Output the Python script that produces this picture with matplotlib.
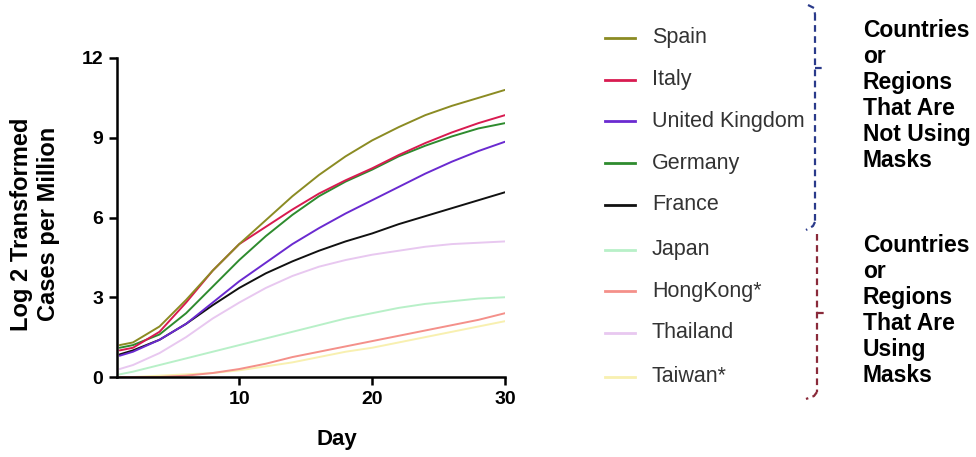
import matplotlib.pyplot as plt
from matplotlib.lines import Line2D

# Días y valores (log2 casos por millón)
dias = [1, 2, 4, 6, 8, 10, 12, 14, 16, 18, 20, 22, 24, 26, 28, 30]

paises = ['Spain', 'Italy', 'United Kingdom', 'Germany', 'France',
          'Japan', 'HongKong*', 'Thailand', 'Taiwan*']

spain = [1.2, 1.3, 1.9, 2.9, 4.0, 5.0, 5.9, 6.8, 7.6, 8.3, 8.9, 9.4, 9.85, 10.2, 10.5, 10.8]
italy = [1.0, 1.1, 1.7, 2.8, 4.0, 5.0, 5.65, 6.3, 6.9, 7.4, 7.85, 8.35, 8.8, 9.2, 9.55, 9.85]
uk = [0.8, 0.95, 1.4, 2.0, 2.8, 3.6, 4.3, 5.0, 5.6, 6.15, 6.65, 7.15, 7.65, 8.1, 8.5, 8.85]
germany = [1.1, 1.2, 1.6, 2.4, 3.4, 4.4, 5.3, 6.1, 6.8, 7.35, 7.8, 8.3, 8.7, 9.05, 9.35, 9.55]
france = [0.85, 1.0, 1.4, 2.0, 2.7, 3.35, 3.9, 4.35, 4.75, 5.1, 5.4, 5.75, 6.05, 6.35, 6.65, 6.95]
japan = [0.1, 0.2, 0.45, 0.7, 0.95, 1.2, 1.45, 1.7, 1.95, 2.2, 2.4, 2.6, 2.75, 2.85, 2.95, 3.0]
hongkong = [0.0, 0.0, 0.0, 0.05, 0.15, 0.3, 0.5, 0.75, 0.95, 1.15, 1.35, 1.55, 1.75, 1.95, 2.15, 2.4]
thailand = [0.3, 0.45, 0.9, 1.5, 2.2, 2.8, 3.35, 3.8, 4.15, 4.4, 4.6, 4.75, 4.9, 5.0, 5.05, 5.1]
taiwan = [0.0, 0.0, 0.05, 0.1, 0.15, 0.25, 0.4, 0.55, 0.75, 0.95, 1.1, 1.3, 1.5, 1.7, 1.9, 2.1]

series = [spain, italy, uk, germany, france, japan, hongkong, thailand, taiwan]
colores = ['#8b8b23', '#d81b50', '#6a2ad0', '#2e8b2e', '#111111',
           '#b8f0c8', '#f4908a', '#e8c8f0', '#f8f0b0']

plt.rcParams['font.family'] = ['Liberation Sans', 'DejaVu Sans']

W, H = 976, 457
fig = plt.figure(figsize=(9.76, 4.57), dpi=100)
ax = fig.add_axes([117 / W, 1 - 377 / H, 388 / W, 319 / H])

# dibujar las líneas (de atrás hacia adelante)
for i in [8, 7, 6, 5, 4, 3, 2, 1, 0]:
    ax.plot(dias, series[i], color=colores[i], lw=1.4, solid_capstyle='round')

ax.set_xlim(0.8, 30)
ax.set_ylim(0, 12)
ax.set_xticks([10, 20, 30])
ax.set_yticks([0, 3, 6, 9, 12])
for s in ['top', 'right']:
    ax.spines[s].set_visible(False)
for s in ['left', 'bottom']:
    ax.spines[s].set_linewidth(1.8)
ax.tick_params(width=1.8, length=6, labelsize=14, pad=4)
for lab in ax.get_xticklabels() + ax.get_yticklabels():
    lab.set_fontweight('bold')

# títulos de ejes
fig.text(337 / W, 1 - 440 / H, 'Day', fontsize=16, fontweight='bold',
         ha='center', va='center')
fig.text(35 / W, 1 - 224 / H, 'Log 2 Transformed\nCases per Million',
         fontsize=17, fontweight='bold', rotation=90, ha='center',
         va='center', multialignment='center', linespacing=1.25)

# leyenda manual
ys = [38, 80, 121, 163, 205, 250, 291, 333, 377]
for nombre, col, y in zip(paises, colores, ys):
    fig.add_artist(Line2D([605 / W, 635 / W], [1 - y / H, 1 - y / H],
                          color=col, lw=2))
    fig.text(652 / W, 1 - y / H, nombre, fontsize=15.5, color='#333333',
             va='center', ha='left')


def linea(xs, ys_, col):
    fig.add_artist(Line2D([x / W for x in xs], [1 - y / H for y in ys_],
                          color=col, lw=1.6, ls=(0, (3, 2))))


# llaves
azul = '#2a3a8a'
rojo = '#8a2a3a'
linea([808, 814, 815], [5, 8, 14], azul)
linea([815, 815], [14, 222], azul)
linea([815, 826], [68, 68], azul)
linea([815, 813, 806], [222, 226, 230], azul)
linea([817, 817], [234, 392], rojo)
linea([817, 827], [313, 313], rojo)
linea([817, 814, 806], [392, 396, 399], rojo)

txt1 = 'Countries\nor\nRegions\nThat Are\nNot Using\nMasks'
txt2 = 'Countries\nor\nRegions\nThat Are\nUsing\nMasks'
fig.text(863 / W, 1 - 19 / H, txt1, fontsize=16.5, fontweight='bold',
         va='top', ha='left', linespacing=1.17)
fig.text(863 / W, 1 - 234 / H, txt2, fontsize=16.5, fontweight='bold',
         va='top', ha='left', linespacing=1.17)

fig.savefig('out.png', dpi=100)
